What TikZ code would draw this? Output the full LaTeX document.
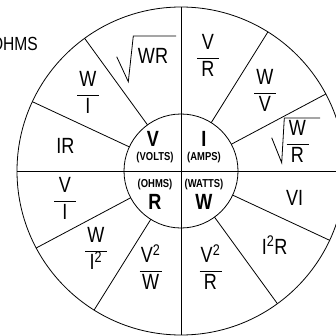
\documentclass[tikz,border=0pt]{standalone}
\usepackage{fontspec}
\setmainfont[FakeStretch=0.82]{Liberation Sans}
\usepackage{xcolor}

\setlength{\arrayrulewidth}{0.9pt}
\newcommand{\frc}[2]{\begin{tabular}{@{}c@{}}\makebox[22pt]{#1}\\\hline #2\end{tabular}}

\begin{document}
\begin{tikzpicture}[x=1pt,y=1pt,
    ring/.style={inner sep=0pt,font=\fontsize{22}{26}\selectfont},
    big/.style={inner sep=0pt,font=\fontsize{22}{24}\selectfont\bfseries},
    unit/.style={inner sep=0pt,font=\fontsize{11.5}{13}\selectfont\bfseries},
    spoke/.style={line width=0.8pt},
    axis/.style={line width=0.9pt},
    rad/.style={line width=0.8pt}]
    \useasboundingbox (0,0) rectangle (336,335);
    \coordinate (c) at (181,164);
    % wheel
    \draw[spoke] (c) circle[radius=164pt];
    \draw[spoke] (c) circle[radius=57pt];
    \draw[axis] ([shift={(90:164)}]c) -- ([shift={(270:164)}]c);
    \draw[axis] ([shift={(180:164)}]c) -- ([shift={(0:164)}]c);
    \foreach \a in {28,58,126,155,208,238,306,335}
      \draw[spoke] ([shift={(\a:57)}]c) -- ([shift={(\a:164)}]c);
    % hub
    \node[big]  (v)  at (153,196) {V};
    \node[unit] (vl) at (155,177) {(VOLTS)};
    \node[big]  (i)  at (204,196) {I};
    \node[unit] (il) at (204,177) {(AMPS)};
    \node[unit] (rl) at (155,150) {(OHMS)};
    \node[big]  (r)  at (155,133) {R};
    \node[unit] (wl) at (204,150) {(WATTS)};
    \node[big]  (w)  at (204,133) {W};
    % ring
    \node[ring,anchor=east,font=\fontsize{19}{22}\selectfont] (ohms) at (38,291) {OHMS};
    \node[ring] (wr)   at (153,279)   {WR};
    \node[ring] (vr)   at (208,277)   {\frc{V}{R}};
    \node[ring] (wv)   at (265,242)   {\frc{W}{V}};
    \node[ring] (wrr)  at (297.5,191) {\frc{W}{R}};
    \node[ring] (wi)   at (88,240)    {\frc{W}{I}};
    \node[ring] (ir)   at (65.5,189)  {IR};
    \node[ring] (vi2)  at (65,134)    {\frc{V}{I}};
    \node[ring] (wii)  at (96,84)     {\frc{W}{I\textsuperscript{2}}};
    \node[ring] (vvw)  at (150.7,64)  {\frc{V\textsuperscript{2}}{W}};
    \node[ring] (vvr)  at (210.5,64)  {\frc{V\textsuperscript{2}}{R}};
    \node[ring] (iir)  at (274.7,90)  {I\textsuperscript{2}R};
    \node[ring] (vi)   at (294.7,137) {VI};
    % radicals
    \draw[rad] ([shift={(-36.3,-0.7)}]wr.center) -- ([shift={(-24.7,-25.7)}]wr.center)
      -- ([shift={(-19.7,20)}]wr.center) -- ([shift={(23,20)}]wr.center);
    \draw[rad] ([shift={(-25.8,6.3)}]wrr.center) -- ([shift={(-15.8,-18.7)}]wrr.center)
      -- ([shift={(-13.2,26)}]wrr.center) -- ([shift={(22.5,26)}]wrr.center);
\end{tikzpicture}
\end{document}
